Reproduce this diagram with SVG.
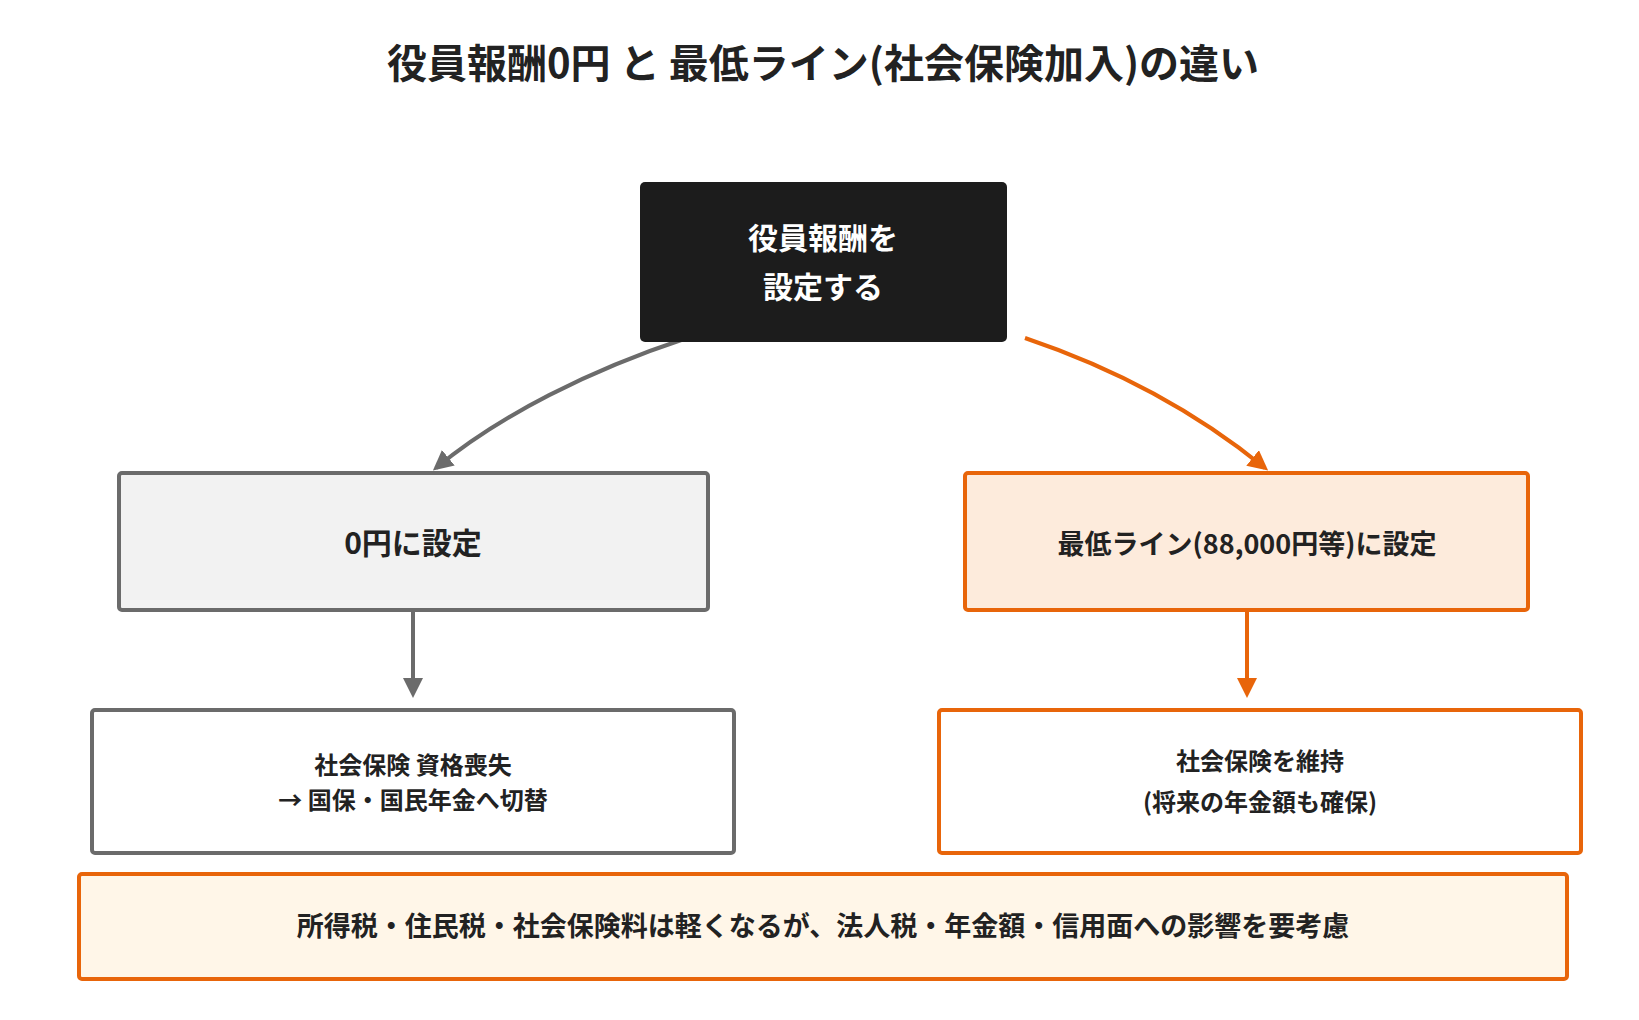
<svg xmlns="http://www.w3.org/2000/svg" width="1639" height="1020" viewBox="0 0 1639 1020">
<style>
text{font-family:"Noto Sans CJK JP","Noto Sans",sans-serif;font-weight:700;text-anchor:middle;dominant-baseline:central;fill:#222}
.g{stroke:#6b6b6b;stroke-width:4;fill:none}
.o{stroke:#e8650a;stroke-width:4;fill:none}
</style>
<defs>
<marker id="ag" viewBox="0 0 10 10" refX="8" refY="5" markerWidth="5" markerHeight="5" orient="auto"><path d="M0,0L10,5L0,10z" fill="#6b6b6b"/></marker>
<marker id="ao" viewBox="0 0 10 10" refX="8" refY="5" markerWidth="5" markerHeight="5" orient="auto"><path d="M0,0L10,5L0,10z" fill="#e8650a"/></marker>
</defs>
<rect width="1639" height="1020" fill="#fff"/>
<text x="823" y="61" font-size="40">役員報酬0円 と 最低ライン(社会保険加入)の違い</text>
<g id="connectors">
<path class="g" d="M687,338 C590,370 500,415 436,468" marker-end="url(#ag)"/>
<path class="o" d="M1025,338 C1120,370 1200,415 1265,468" marker-end="url(#ao)"/>
<path class="g" d="M413,610 L413,694" marker-end="url(#ag)"/>
<path class="o" d="M1247,610 L1247,694" marker-end="url(#ao)"/>
</g>
<g id="top"><rect x="640" y="182" width="367" height="160" rx="5" fill="#1c1c1c"/>
<text x="823" y="236" font-size="30" style="fill:#fff">役員報酬を</text><text x="823" y="285" font-size="30" style="fill:#fff">設定する</text></g>
<g id="zero"><rect x="119" y="473" width="589" height="137" rx="3" class="g" style="fill:#f2f2f2"/>
<text x="413" y="541" font-size="30">0円に設定</text></g>
<g id="min"><rect x="965" y="473" width="563" height="137" rx="3" class="o" style="fill:#fdebdc"/>
<text x="1247" y="542" font-size="27">最低ライン(88,000円等)に設定</text></g>
<g id="lose"><rect x="92" y="710" width="642" height="143" rx="3" class="g" style="fill:#fff"/>
<text x="413" y="763" font-size="24">社会保険 資格喪失</text><text x="413" y="798" font-size="24">→ 国保・国民年金へ切替</text></g>
<g id="keep"><rect x="939" y="710" width="642" height="143" rx="3" class="o" style="fill:#fff"/>
<text x="1260" y="759" font-size="24">社会保険を維持</text><text x="1260" y="800" font-size="24">(将来の年金額も確保)</text></g>
<g id="note"><rect x="79" y="874" width="1488" height="105" rx="3" class="o" style="fill:#fff6e8"/>
<text x="823" y="924" font-size="27">所得税・住民税・社会保険料は軽くなるが、法人税・年金額・信用面への影響を要考慮</text></g>
</svg>
